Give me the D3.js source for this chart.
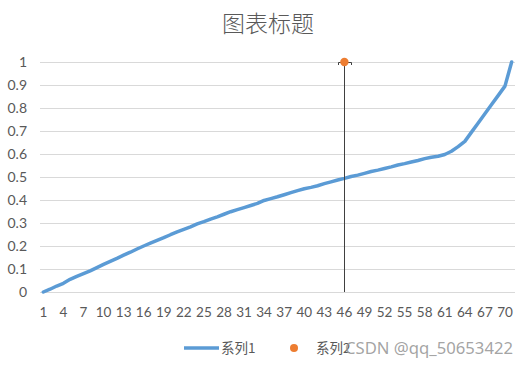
<!DOCTYPE html>
<html><head><meta charset="utf-8">
<script src="https://cdn.jsdelivr.net/npm/d3@7"></script>
<style>
html,body{margin:0;padding:0;background:#fff;}
svg{display:block;}
</style></head>
<body>
<script>
const categories = d3.range(1, 72);
const series1 = [
0.000,0.012,0.026,0.038,0.055,0.068,0.080,0.092,0.106,0.120,
0.133,0.146,0.160,0.173,0.187,0.200,0.212,0.224,0.236,0.249,
0.261,0.272,0.283,0.296,0.306,0.317,0.327,0.338,0.349,0.358,
0.367,0.376,0.385,0.398,0.406,0.414,0.423,0.432,0.441,0.449,
0.455,0.462,0.471,0.479,0.487,0.494,0.502,0.508,0.516,0.524,
0.530,0.537,0.544,0.552,0.558,0.565,0.572,0.580,0.586,0.590,
0.598,0.612,0.632,0.655,0.695,0.735,0.775,0.815,0.855,0.895,1.000];
const series2 = [{cat: 46, value: 1}];
const yTicks = [0,0.1,0.2,0.3,0.4,0.5,0.6,0.7,0.8,0.9,1];
const xTickLabels = categories.filter((d,i) => i % 3 === 0);
const title = "图表标题";
const legendNames = ["系列1", "系列2"];
const watermark = "CSDN @qq_50653422";

const W = 528, H = 368;
const svg = d3.select("body").append("svg").attr("width", W).attr("height", H);
const x = d3.scaleBand().domain(categories).range([40, 515]);
const y = d3.scaleLinear().domain([0, 1]).range([292, 62]);
const cx = d => x(d) + x.bandwidth() / 2;
const numFont = "Lato, 'Noto Sans', sans-serif";
const cjkFont = "'Noto Sans CJK SC', sans-serif";

svg.append("text").attr("x", 268).attr("y", 32).attr("text-anchor", "middle")
  .attr("font-family", cjkFont).attr("font-size", 23).attr("font-weight", 300).attr("fill", "#595959").text(title);

// grid
svg.append("g").selectAll("line").data(yTicks).join("line")
  .attr("x1", 40).attr("x2", 515).attr("y1", d => Math.round(y(d)) + 0.5).attr("y2", d => Math.round(y(d)) + 0.5)
  .attr("stroke", "#d9d9d9").attr("stroke-width", 1);

// y axis labels
const yAxis = d3.axisLeft(y).tickValues(yTicks).tickSize(0).tickPadding(0).tickFormat(d3.format("~g"));
const gy = svg.append("g").attr("transform", "translate(27,0)").call(yAxis);
gy.select(".domain").remove();
gy.selectAll("text").attr("font-family", numFont).attr("font-size", 14).attr("fill", "#595959");

// x axis labels
const xAxis = d3.axisBottom(x).tickValues(xTickLabels).tickSize(0).tickPadding(0);
const gx = svg.append("g").attr("transform", "translate(0,307)").call(xAxis);
gx.select(".domain").remove();
gx.selectAll("text").attr("font-family", numFont).attr("font-size", 13.5).attr("fill", "#595959");

// series1 line
const line = d3.line().x((d, i) => cx(categories[i])).y(d => y(d));
svg.append("path").datum(series1).attr("d", line).attr("fill", "none")
  .attr("stroke", "#5B9BD5").attr("stroke-width", 3.5).attr("stroke-linejoin", "round").attr("stroke-linecap", "round");

// series2 with minus error bar
series2.forEach(p => {
  const px = Math.round(cx(p.cat)) + 0.5;
  svg.append("line").attr("x1", px).attr("x2", px).attr("y1", y(p.value)).attr("y2", y(0))
    .attr("stroke", "#404040").attr("stroke-width", 1);
  svg.append("path").attr("d", `M${px-6},${y(p.value)+3}V${y(p.value)+0.5}H${px+7}V${y(p.value)+3}`)
    .attr("fill", "none").attr("stroke", "#404040").attr("stroke-width", 1);
  svg.append("circle").attr("cx", cx(p.cat)).attr("cy", y(p.value)).attr("r", 4.2).attr("fill", "#ED7D31");
});

// legend
const ly = 348;
svg.append("line").attr("x1", 184).attr("x2", 219).attr("y1", ly).attr("y2", ly)
  .attr("stroke", "#5B9BD5").attr("stroke-width", 3.5);
svg.append("text").attr("x", 221).attr("y", ly + 5).attr("font-family", cjkFont).attr("font-size", 13.5)
  .attr("fill", "#595959").text(legendNames[0]);
svg.append("circle").attr("cx", 294).attr("cy", ly).attr("r", 4).attr("fill", "#ED7D31");
svg.append("text").attr("x", 316).attr("y", ly + 5).attr("font-family", cjkFont).attr("font-size", 13.5)
  .attr("fill", "#595959").text(legendNames[1]);

// watermark
svg.append("text").attr("x", 345).attr("y", ly + 6).attr("text-anchor", "start")
  .attr("textLength", 168).attr("lengthAdjust", "spacingAndGlyphs")
  .attr("font-family", "'Noto Sans', sans-serif").attr("font-size", 16)
  .attr("fill", "#999999").attr("fill-opacity", 0.9).text(watermark);
</script>
</body></html>
